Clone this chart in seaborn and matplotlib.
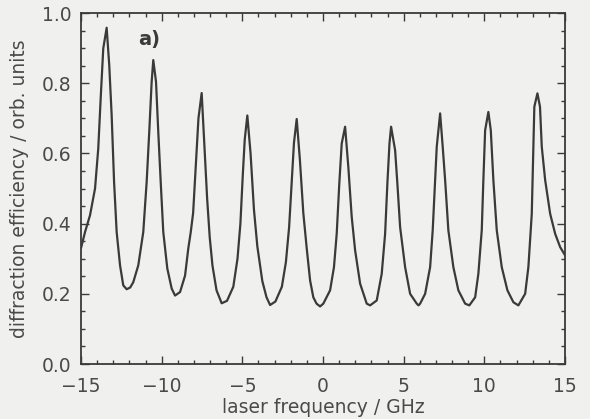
import matplotlib
matplotlib.use("Agg")
import matplotlib.pyplot as plt
import seaborn as sns
import pandas as pd
from matplotlib.ticker import MultipleLocator

# laser frequency (GHz) and diffraction efficiency (arb. units)
freq = [-15.0, -14.75, -14.44, -14.13, -13.93, -13.78, -13.62, -13.41, -13.25, -13.10,
        -12.95, -12.79, -12.58, -12.38, -12.17, -11.95, -11.76, -11.45, -11.14, -10.93,
        -10.77, -10.62, -10.52, -10.35, -10.21, -10.06, -9.90, -9.65, -9.38, -9.17,
        -8.86, -8.55, -8.35, -8.20, -8.05, -7.88, -7.72, -7.52, -7.35, -7.18,
        -7.02, -6.85, -6.60, -6.28, -5.95, -5.56, -5.30, -5.12, -4.97, -4.85,
        -4.69, -4.49, -4.28, -4.07, -3.76, -3.50, -3.28, -2.95, -2.55, -2.30,
        -2.10, -1.95, -1.80, -1.63, -1.43, -1.22, -1.01, -0.80, -0.60, -0.40,
        -0.18, 0.02, 0.44, 0.68, 0.85, 1.01, 1.16, 1.37, 1.57, 1.78,
        1.99, 2.30, 2.71, 2.92, 3.33, 3.64, 3.85, 3.99, 4.12, 4.22,
        4.47, 4.61, 4.78, 5.09, 5.40, 5.81, 5.92, 6.02, 6.33, 6.64,
        6.80, 6.95, 7.05, 7.26, 7.42, 7.57, 7.77, 8.08, 8.39, 8.81,
        9.07, 9.43, 9.63, 9.84, 9.94, 10.05, 10.25, 10.40, 10.56, 10.77,
        11.08, 11.43, 11.80, 12.11, 12.53, 12.73, 12.94, 13.04, 13.10, 13.29,
        13.45, 13.56, 13.77, 14.08, 14.39, 14.70, 15.0]
eff = [0.33, 0.376, 0.424, 0.50, 0.614, 0.757, 0.899, 0.958, 0.852, 0.709,
       0.519, 0.376, 0.281, 0.224, 0.213, 0.218, 0.233, 0.281, 0.376, 0.519,
       0.661, 0.804, 0.866, 0.804, 0.661, 0.519, 0.376, 0.272, 0.215, 0.195,
       0.205, 0.252, 0.329, 0.375, 0.43, 0.57, 0.70, 0.772, 0.62, 0.47,
       0.36, 0.28, 0.21, 0.173, 0.18, 0.22, 0.30, 0.40, 0.54, 0.64,
       0.708, 0.60, 0.44, 0.335, 0.236, 0.19, 0.168, 0.178, 0.22, 0.29,
       0.39, 0.51, 0.63, 0.698, 0.58, 0.43, 0.33, 0.238, 0.19, 0.172,
       0.164, 0.172, 0.21, 0.276, 0.371, 0.514, 0.628, 0.676, 0.561, 0.419,
       0.324, 0.229, 0.172, 0.167, 0.181, 0.257, 0.371, 0.514, 0.628, 0.676,
       0.609, 0.514, 0.390, 0.276, 0.20, 0.172, 0.167, 0.172, 0.20, 0.276,
       0.381, 0.524, 0.619, 0.714, 0.619, 0.524, 0.381, 0.276, 0.21, 0.172,
       0.167, 0.19, 0.257, 0.381, 0.524, 0.666, 0.718, 0.666, 0.524, 0.381,
       0.276, 0.21, 0.176, 0.167, 0.20, 0.276, 0.428, 0.619, 0.733, 0.771,
       0.733, 0.619, 0.524, 0.428, 0.371, 0.333, 0.31]

x_ticks = [-15, -10, -5, 0, 5, 10, 15]
x_tick_labels = ["\u221215", "\u221210", "\u22125", "0", "5", "10", "15"]
y_ticks = [0.0, 0.2, 0.4, 0.6, 0.8, 1.0]
y_tick_labels = ["0.0", "0.2", "0.4", "0.6", "0.8", "1.0"]

df = pd.DataFrame({"freq": freq, "eff": eff})

sns.set_theme(style="ticks")
plt.rcParams["font.family"] = ["DejaVu Sans"]

bg = "#f0f0ee"
txt = "#4a4a4a"
fig = plt.figure(figsize=(5.9, 4.19), dpi=100, facecolor=bg)
ax = fig.add_axes([81 / 590, 1 - 364 / 419, (565 - 81) / 590, (364 - 13) / 419])
ax.set_facecolor(bg)

sns.lineplot(data=df, x="freq", y="eff", ax=ax, color="#3a3a3a", linewidth=1.6,
             sort=False, estimator=None, solid_joinstyle="round")

ax.set_xlim(-15, 15)
ax.set_ylim(0, 1.0)
ax.set_xticks(x_ticks)
ax.set_xticklabels(x_tick_labels)
ax.set_yticks(y_ticks)
ax.set_yticklabels(y_tick_labels)
ax.xaxis.set_minor_locator(MultipleLocator(1))
ax.yaxis.set_minor_locator(MultipleLocator(0.05))
ax.tick_params(which="both", direction="in", top=True, right=True,
               colors="#3a3a3a", labelcolor=txt, labelsize=13.5, width=1.0)
ax.tick_params(which="major", length=6)
ax.tick_params(axis="x", which="major", pad=9)
ax.tick_params(axis="y", which="major", pad=7)
ax.tick_params(which="minor", length=3)
for s in ax.spines.values():
    s.set_linewidth(1.3)
    s.set_color("#3a3a3a")

ax.set_xlabel("laser frequency / GHz", fontsize=13.5, color=txt, labelpad=2)
ax.set_ylabel("diffraction efficiency / orb. units", fontsize=13.5, color=txt, labelpad=9)
ax.text(-10.75, 0.925, "a)", fontsize=14, fontweight="bold", color="#3a3a3a",
        ha="center", va="center")

fig.savefig("out.png", dpi=100, facecolor=bg)
